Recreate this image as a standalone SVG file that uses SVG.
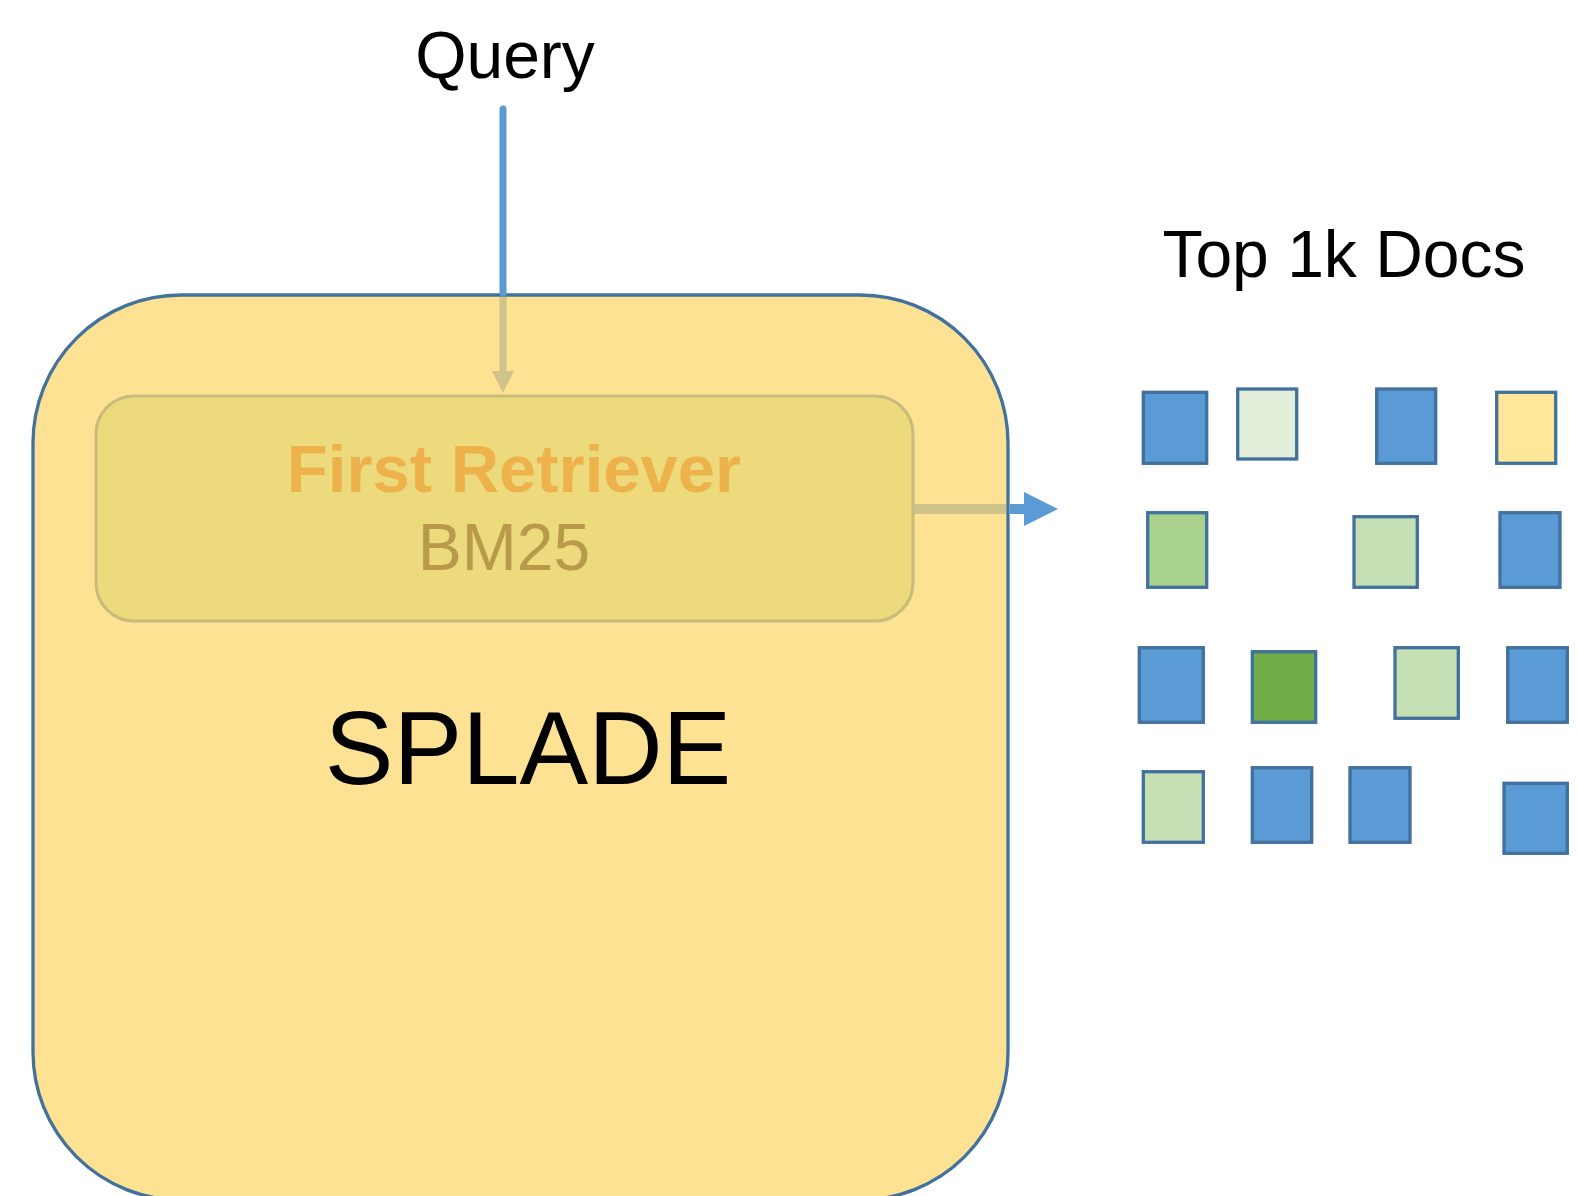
<svg xmlns="http://www.w3.org/2000/svg" width="1577" height="1196" viewBox="0 0 1577 1196">
  <style>
    .lbl { font-family: "Liberation Sans", Arial, sans-serif; text-anchor: middle; }
    .doc { stroke: #41719C; stroke-width: 3.3; }
    .blue { fill: #5B9BD5; }
    .pale { fill: #E2EFDA; }
    .lgreen { fill: #C5E0B4; }
    .mgreen { fill: #A9D18E; }
    .dgreen { fill: #70AD47; }
    .yellow { fill: #FFE699; }
  </style>
  <rect width="1577" height="1196" fill="#FFFFFF"/>

  <!-- query label -->
  <g id="query">
    <text class="lbl" x="505" y="78" font-size="66" fill="#000000">Query</text>
  </g>

  <!-- outer SPLADE container -->
  <g id="splade">
    <rect x="33" y="295" width="975" height="905" rx="148" ry="148" fill="#FDE294" stroke="#41719C" stroke-width="3.3"/>
    <text class="lbl" x="528" y="784" font-size="103" fill="#000000">SPLADE</text>
  </g>

  <!-- connectors: blue outside the container, tinted where they cross it -->
  <g id="connectors">
    <line x1="503" y1="109" x2="503" y2="293" stroke="#5B9BD5" stroke-width="7" stroke-linecap="round"/>
    <line x1="503" y1="297" x2="503" y2="373" stroke="#CEC48A" stroke-width="7"/>
    <polygon points="492,371 514,371 503,393" fill="#CEC48A"/>
    <line x1="912" y1="509" x2="1006" y2="509" stroke="#CEC48A" stroke-width="10"/>
    <line x1="1010" y1="509" x2="1026" y2="509" stroke="#5B9BD5" stroke-width="10"/>
    <polygon points="1024,492 1058,509 1024,526" fill="#5B9BD5"/>
  </g>

  <!-- first-stage retriever box -->
  <g id="first-retriever">
    <rect x="96" y="396" width="817" height="225" rx="38" ry="38" fill="#EDDA7D" stroke="#C8BB7B" stroke-width="3"/>
    <text class="lbl" x="514" y="492" font-size="67" font-weight="bold" fill="#EDB24C">First Retriever</text>
    <text class="lbl" x="504" y="570" font-size="66" fill="#B89A4A">BM25</text>
  </g>

  <!-- retrieved documents -->
  <g id="top-docs">
    <text class="lbl" x="1344" y="277" font-size="66" fill="#000000">Top 1k Docs</text>
    <rect class="doc blue"   x="1143.3" y="392.3" width="63.4" height="71"/>
    <rect class="doc pale"   x="1237.7" y="389"   width="59"   height="70"/>
    <rect class="doc blue"   x="1376.7" y="389"   width="59"   height="74.3"/>
    <rect class="doc yellow" x="1496.7" y="392.3" width="59"   height="71"/>

    <rect class="doc mgreen" x="1147.7" y="512.7" width="59"   height="74.6"/>
    <rect class="doc lgreen" x="1354"   y="516.7" width="63.3" height="70.6"/>
    <rect class="doc blue"   x="1500"   y="512.7" width="60"   height="74.6"/>

    <rect class="doc blue"   x="1139.3" y="647.7" width="64"   height="74.6"/>
    <rect class="doc dgreen" x="1252.3" y="651.7" width="63.4" height="70.6"/>
    <rect class="doc lgreen" x="1395"   y="647.7" width="63.3" height="70.6"/>
    <rect class="doc blue"   x="1507.7" y="647.7" width="59.6" height="74.6"/>

    <rect class="doc lgreen" x="1143.3" y="771.7" width="60"   height="70.6"/>
    <rect class="doc blue"   x="1252.3" y="767.7" width="59.4" height="74.6"/>
    <rect class="doc blue"   x="1350"   y="767.7" width="60"   height="74.6"/>
    <rect class="doc blue"   x="1504"   y="783.3" width="63.3" height="70"/>
  </g>
</svg>
